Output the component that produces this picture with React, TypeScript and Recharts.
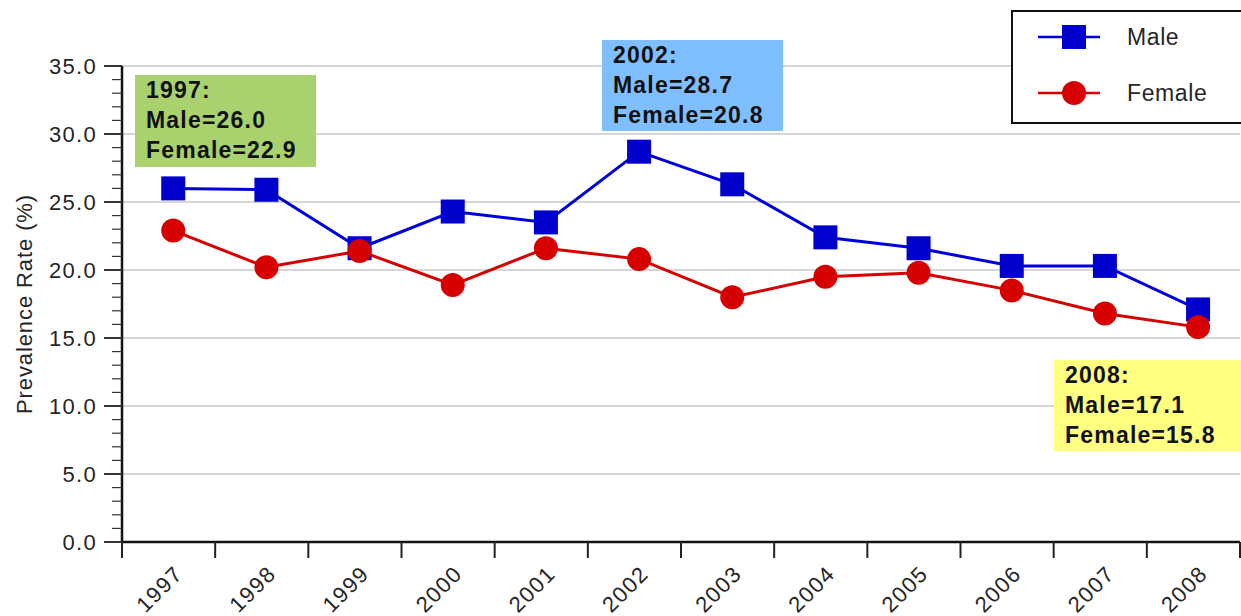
import React from 'react';
import { LineChart, Line, XAxis, YAxis, ReferenceLine, Legend } from 'recharts';

const years = ['1997', '1998', '1999', '2000', '2001', '2002', '2003', '2004', '2005', '2006', '2007', '2008'];
const male = [26.0, 25.9, 21.6, 24.3, 23.5, 28.7, 26.3, 22.4, 21.6, 20.3, 20.3, 17.1];
const female = [22.9, 20.2, 21.4, 18.9, 21.6, 20.8, 18.0, 19.5, 19.8, 18.5, 16.8, 15.8];
const majorTicks = [0, 5, 10, 15, 20, 25, 30, 35];
const minorTicks = Array.from({ length: 36 }, (_, i) => i);
const annotated = [
  { idx: 0, bg: '#A9D26F', left: 135, top: 75, width: 181, height: 92 },
  { idx: 5, bg: '#80BFFF', left: 602, top: 40, width: 181, height: 91 },
  { idx: 11, bg: '#FFFF80', left: 1054, top: 360, width: 200, height: 91 },
];

const data = years.map((y, i) => ({ idx: i, year: y, male: male[i], female: female[i] }));

const FONT = '"Liberation Sans", Arial, sans-serif';
const TEXT = '#262626';

const xTicks: number[] = [];
for (let i = 0; i < years.length; i++) {
  xTicks.push(i - 0.55);
  xTicks.push(i);
}
xTicks.push(years.length - 0.55);

const XTick = (props: any) => {
  const { x, y, payload } = props;
  const v = payload.value;
  if (Number.isInteger(v)) {
    const ax = x + 11;
    const ay = y + 33;
    return (
      <text
        x={ax}
        y={ay}
        transform={`rotate(-45, ${ax}, ${ay})`}
        textAnchor="end"
        fontFamily={FONT}
        fontSize={22}
        letterSpacing={1.5}
        fill={TEXT}
      >
        {years[v]}
      </text>
    );
  }
  return <line x1={x} x2={x} y1={y} y2={y + 16} stroke="#222" strokeWidth={2} />;
};

const YTick = (props: any) => {
  const { x, y, payload } = props;
  const v = payload.value;
  const major = v % 5 === 0;
  return (
    <g>
      <line x1={x - (major ? 18 : 10)} x2={x} y1={y} y2={y} stroke="#333" strokeWidth={major ? 2 : 1.2} />
      {major && (
        <text x={x - 25} y={y} dy="0.36em" textAnchor="end" fontFamily={FONT} fontSize={22} letterSpacing={1.3} fill={TEXT}>
          {v.toFixed(1)}
        </text>
      )}
    </g>
  );
};

const SquareDot = (p: any) => (
  <rect key={`m-${p.index}`} x={p.cx - 12} y={p.cy - 12} width={24} height={24} fill="#0000CC" />
);
const CircleDot = (p: any) => (
  <circle key={`f-${p.index}`} cx={p.cx} cy={p.cy} r={12} fill="#D60000" />
);

const LegendContent = () => (
  <div style={{ width: 240, height: 114, border: '2px solid #111', background: '#fff', boxSizing: 'border-box' }}>
    <svg width={236} height={110} style={{ display: 'block' }}>
      <line x1={25} x2={87} y1={25} y2={25} stroke="#0000DD" strokeWidth={2.5} />
      <rect x={49} y={13} width={24} height={24} fill="#0000CC" />
      <text x={114} y={25} dy="0.36em" fontFamily={FONT} fontSize={23} letterSpacing={0.6} fill={TEXT}>Male</text>
      <line x1={25} x2={87} y1={81} y2={81} stroke="#D60000" strokeWidth={2.5} />
      <circle cx={61} cy={81} r={12} fill="#D60000" />
      <text x={114} y={81} dy="0.36em" fontFamily={FONT} fontSize={23} letterSpacing={0.6} fill={TEXT}>Female</text>
    </svg>
  </div>
);

export default function App() {
  return (
    <div style={{ position: 'absolute', left: 0, top: 0, width: 1241, height: 616, overflow: 'hidden', background: '#fff' }}>
      <LineChart width={1241} height={616} data={data} margin={{ top: 66, right: 1, bottom: 0, left: 0 }}>
        {majorTicks.slice(1).map((t) => (
          <ReferenceLine key={t} y={t} stroke="#C8C8C8" strokeWidth={1.5} ifOverflow="extendDomain" />
        ))}
        <XAxis
          dataKey="idx"
          type="number"
          domain={[-0.55, years.length - 0.55]}
          ticks={xTicks}
          interval={0}
          allowDataOverflow
          height={74}
          tickLine={false}
          tickSize={0}
          tickMargin={0}
          tick={<XTick />}
          axisLine={{ stroke: '#111', strokeWidth: 2.5 }}
        />
        <YAxis
          type="number"
          domain={[0, 35]}
          ticks={minorTicks}
          interval={0}
          allowDataOverflow
          width={122}
          tickLine={false}
          tickSize={0}
          tickMargin={0}
          tick={<YTick />}
          axisLine={{ stroke: '#111', strokeWidth: 2.5 }}
          label={{
            value: 'Prevalence Rate (%)',
            angle: -90,
            position: 'insideLeft',
            offset: 24,
            style: { textAnchor: 'middle', fontSize: 22, fontFamily: FONT, fill: TEXT, letterSpacing: 0.9 },
          }}
        />
        <Legend
          layout="vertical"
          align="center"
          verticalAlign="middle"
          content={<LegendContent />}
          wrapperStyle={{ position: 'absolute', left: 1011, top: 10, width: 240, height: 114 }}
        />
        <Line
          type="linear"
          dataKey="male"
          name="Male"
          stroke="#0000DD"
          strokeWidth={3}
          dot={SquareDot}
          activeDot={false}
          isAnimationActive={false}
        />
        <Line
          type="linear"
          dataKey="female"
          name="Female"
          stroke="#D60000"
          strokeWidth={3}
          dot={CircleDot}
          activeDot={false}
          isAnimationActive={false}
        />
      </LineChart>
      {annotated.map((a) => (
        <div
          key={a.idx}
          style={{
            position: 'absolute',
            left: a.left,
            top: a.top,
            width: a.width,
            height: a.height,
            background: a.bg,
            boxSizing: 'border-box',
            paddingLeft: 11,
            fontFamily: FONT,
            fontWeight: 'bold',
            fontSize: 23,
            letterSpacing: 1.2,
            lineHeight: '30px',
            color: '#111',
          }}
        >
          <div>{years[a.idx]}:</div>
          <div>Male={male[a.idx].toFixed(1)}</div>
          <div>Female={female[a.idx].toFixed(1)}</div>
        </div>
      ))}
    </div>
  );
}
